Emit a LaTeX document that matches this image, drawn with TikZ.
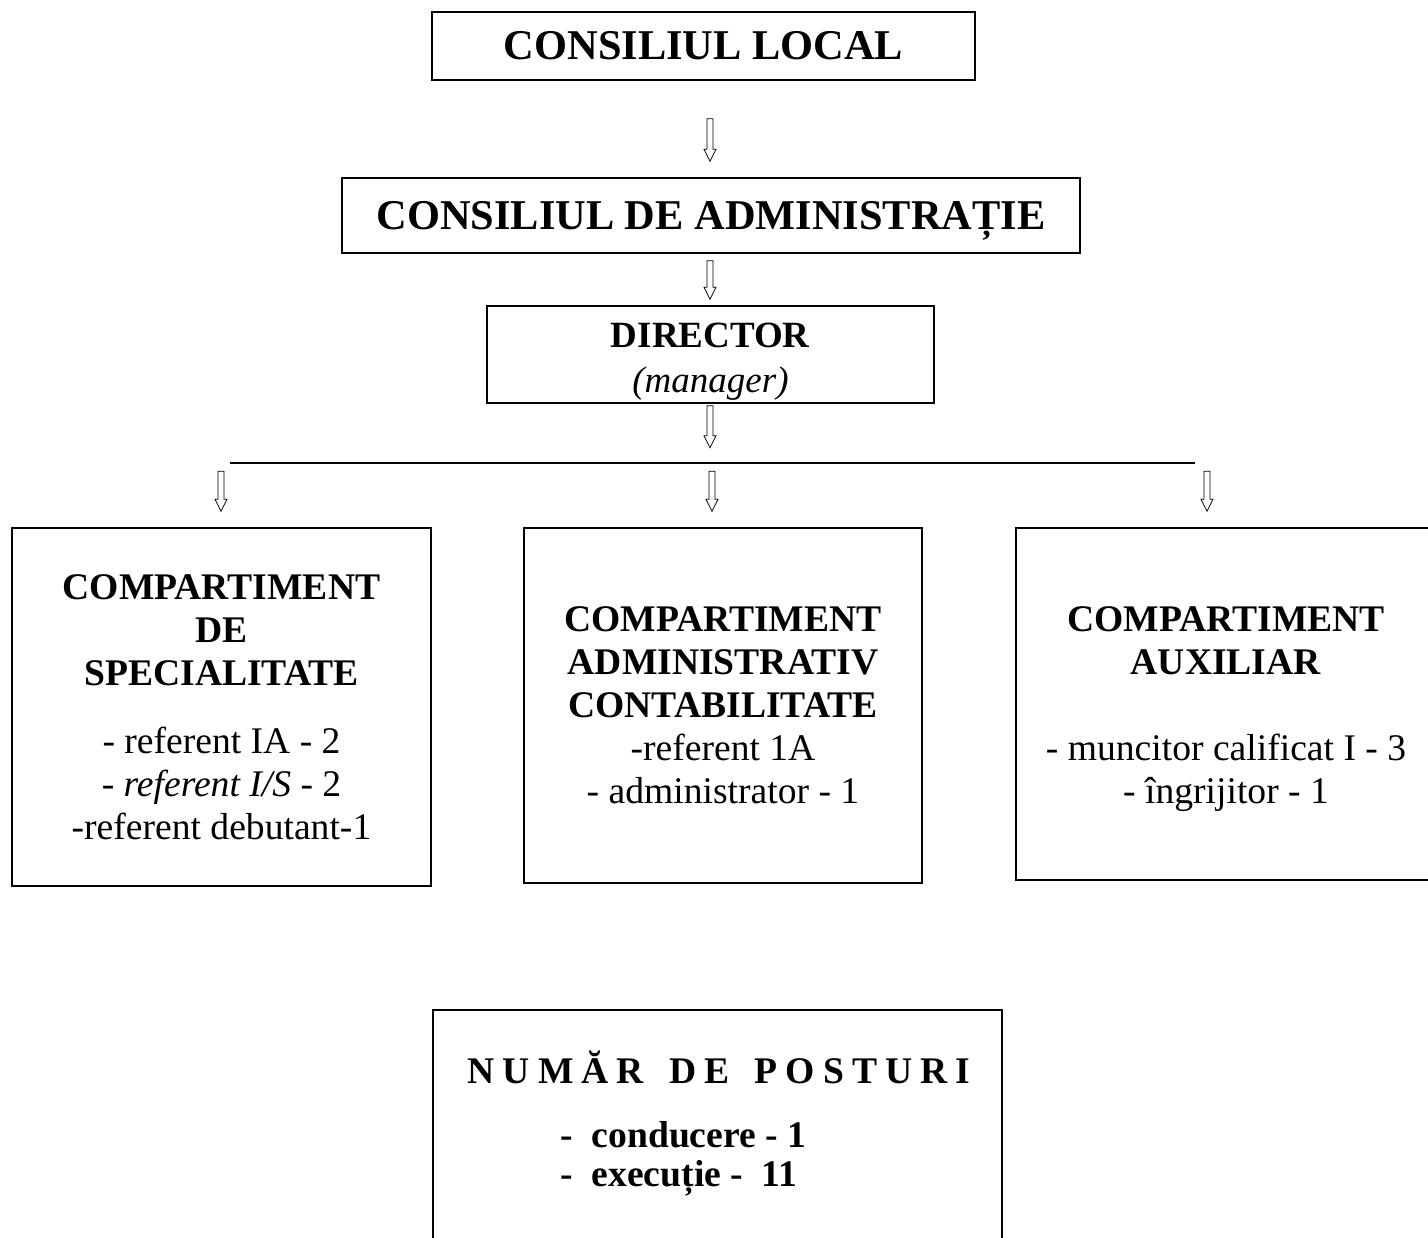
\documentclass[tikz,border=0pt]{standalone}
\usepackage{fontspec}
\setmainfont{Liberation Serif}
\usetikzlibrary{calc}
\newcommand{\lsp}{\hspace{4pt}}
\begin{document}
\begin{tikzpicture}[x=0.5pt,y=-0.5pt,
  box/.style={draw, line width=0.75pt, rectangle, inner sep=0pt, align=center},
  body/.style={font={\fontsize{18.8}{21.5}\selectfont}},
  harrow/.style={draw, line width=0.6pt, line join=miter,
    to path={let \p1=(\tikztostart),\p2=(\tikztotarget) in
      (\x1-1.5pt,\y1) -- (\x1-1.5pt,\y2+6pt) -- (\x1-3pt,\y2+6pt) -- (\x1,\y2)
      -- (\x1+3pt,\y2+6pt) -- (\x1+1.5pt,\y2+6pt) -- (\x1+1.5pt,\y1) -- cycle}},
  busline/.style={line width=0.6pt}]
\useasboundingbox (0,0) rectangle (1428,1237);
\begin{scope}
\clip (0,0) rectangle (1428,1237);
% top boxes
\node[box, minimum width=271.5pt, minimum height=34pt,
  font={\fontsize{21.2}{24}\selectfont\bfseries}] (cl) at (703.5,46)
  {CONSILIUL LOCAL};
\node[box, minimum width=369pt, minimum height=37.5pt, text depth=0pt,
  font={\fontsize{21.2}{24}\selectfont\bfseries}] (ca) at (711,215.5)
  {CONSILIUL DE ADMINISTRAȚIE};
\node[box, minimum width=223.5pt, minimum height=48.5pt,
  font={\fontsize{18.5}{22.5}\selectfont}] (dir) at (710.5,354.5)
  {\rule{0pt}{19pt}\textbf{DIRECTOR}\\ \textit{(manager)}};
% compartments
\node[box, body, minimum width=209.5pt, minimum height=179pt] (sp) at (221.5,707)
  {\textbf{COMPARTIMENT}\\ \textbf{DE}\\ \textbf{SPECIALITATE}\\[12.5pt]
   - referent IA - 2\\ - \textit{referent I/S} - 2\\ -referent debutant-1};
\node[box, body, minimum width=199pt, minimum height=177.5pt] (ad) at (723,705.5)
  {\textbf{COMPARTIMENT}\\ \textbf{ADMINISTRATIV}\\ \textbf{CONTABILITATE}\\
   -referent 1A\\ - administrator - 1};
\node[box, body, minimum width=210pt, minimum height=176pt] (ax) at (1226,704)
  {\rule{0pt}{17.5pt}\textbf{COMPARTIMENT}\\ \textbf{AUXILIAR}\\[21.5pt]
   - muncitor calificat I - 3\\ - îngrijitor - 1};
% bottom box
\node[box, minimum width=284.5pt, minimum height=125pt] (np) at (717.5,1135) {};
\node[font={\fontsize{18.8}{21.5}\selectfont\bfseries}] (npt) at (719,1067)
  {N\lsp U\lsp M\lsp Ă\lsp R\lsp\ \lsp D\lsp E\lsp\ \lsp P\lsp O\lsp S\lsp T\lsp U\lsp R\lsp I};
\node[anchor=west, inner sep=0pt, font={\fontsize{18.8}{21.5}\selectfont\bfseries}] (np1) at (560,1135) {-\ \ conducere - 1};
\node[anchor=west, inner sep=0pt, font={\fontsize{18.8}{21.5}\selectfont\bfseries}] (np2) at (560,1178) {-\ \ execuție -\ \ 11};
% arrows
\draw ($(cl.south)+(6.5,38)$) to[harrow] ($(ca.north)+(-1,-16)$);
\draw ($(ca.south)+(-1,7)$) to[harrow] ($(dir.north)+(-0.5,-6)$);
\draw ($(dir.south)+(-0.5,2)$) to[harrow] ($(dir.south)+(-0.5,44)$);
\coordinate (busL) at (230,463);
\coordinate (busR) at (1195,463);
\draw[busline] (busL) -- (busR);
\draw ($(sp.north)+(-0.5,-56)$) to[harrow] ($(sp.north)+(-0.5,-16)$);
\draw ($(ad.north)+(-11,-56)$) to[harrow] ($(ad.north)+(-11,-16)$);
\draw ($(ax.north)+(-19,-56)$) to[harrow] ($(ax.north)+(-19,-16)$);
\end{scope}
\end{tikzpicture}
\end{document}
